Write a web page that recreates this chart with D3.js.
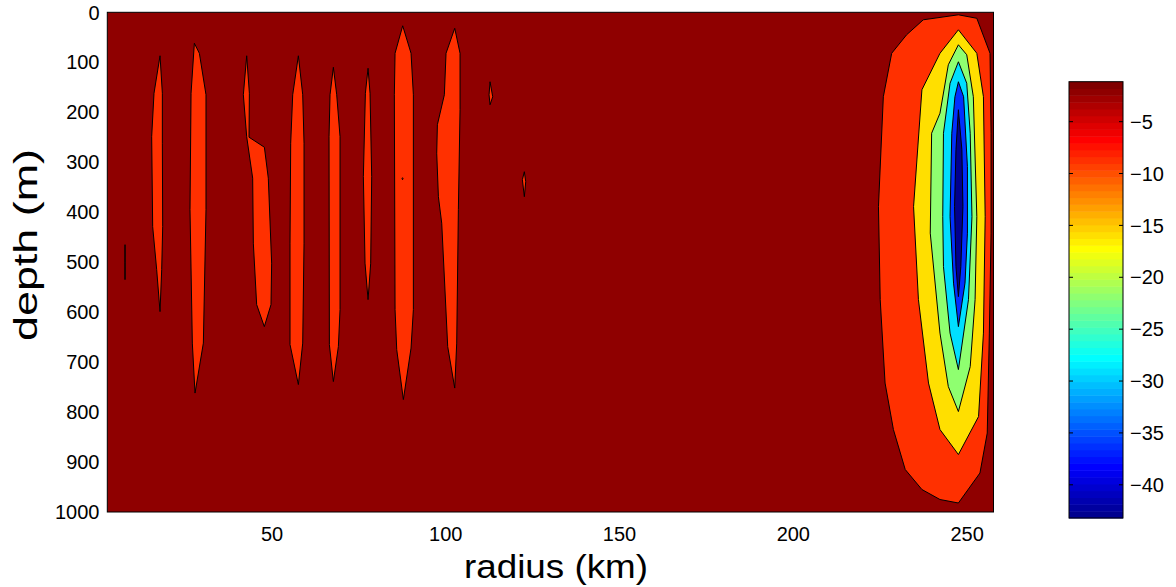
<!DOCTYPE html>
<head>
	<meta charset="utf-8">
	<title>depth vs radius contour</title>
	<script src="https://d3js.org/d3.v7.min.js"></script>
	<style>
	body {
		margin:0;
		background:#ffffff;
	}
	text {
		font-family:"Liberation Sans", Arial, Helvetica, sans-serif;
		fill:#000000;
	}
	.contour {
		stroke:#000000;
		stroke-width:1px;
		stroke-linejoin:round;
	}
	.frame {
		fill:none;
		stroke:#000000;
		stroke-width:1px;
	}
	</style>
</head>
<body>
<div class="chartContainer"></div>
<script>
	// axis ranges and ticks
	var radiusDomain=[2.6, 257.6];
	var depthDomain=[0, 1000];
	var colorDomain=[-43.2, -1.15];
	var radiusTicks=[50, 100, 150, 200, 250];
	var depthTicks=[0, 100, 200, 300, 400, 500, 600, 700, 800, 900, 1000];
	var colorTicks=[-5, -10, -15, -20, -25, -30, -35, -40];

	// contour levels (value of region inside each ring), background is above the first level
	var backgroundValue=-2.0;
	var levels=[-8.5, -15.7, -22.0, -29.3, -36.3, -43.2];

	// rings for each level, points are [radius km, depth m]
	var ring1=[
		[[7.70,465],[7.73,500],[7.70,535],[7.67,500]],
		[[17.77,87],[18.44,162],[18.44,262],[18.54,429],[18.25,515],[17.77,599],[16.81,515],[15.66,429],[15.37,249],[16.04,162]],
		[[27.65,62],[29.09,82],[31.0,165],[31.0,395],[30.24,662],[27.84,762],[27.07,662],[26.4,395],[26.7,162]],
		[[42.71,87],[43.48,162],[43.38,250],[47.8,270],[48.93,332],[49.89,502],[49.7,585],[47.78,629],[45.58,585],[44.62,462],[44.43,332],[42.71,249],[41.75,165]],
		[[57.58,87],[58.83,165],[59.21,262],[59.21,462],[58.83,662],[57.58,745],[55.18,665],[55.18,462],[55.37,262],[55.95,165]],
		[[67.65,110],[68.61,165],[69.57,249],[69.57,595],[69.09,669],[67.65,739],[66.5,665],[66.4,249],[66.69,165]],
		[[77.63,112],[78.2,162],[78.68,329],[78.39,502],[77.63,575],[76.76,502],[76.28,329],[76.86,162]],
		[[87.6,27],[90.0,82],[90.67,165],[90.67,595],[90.0,672],[87.79,775],[85.88,675],[85.4,595],[85.2,165],[85.4,82]],
		[[87.55,331],[87.7,333],[87.55,335],[87.4,333]],
		[[102.57,32],[104.1,82],[104.1,195],[103.62,395],[103.14,662],[102.57,752],[100.55,669],[98.83,422],[97.87,369],[97.39,282],[97.58,225],[99.59,165],[100.07,82]],
		[[112.73,139],[113.5,169],[112.73,185],[112.45,165]],
		[[122.6,319],[123.0,339],[122.6,369],[122.04,335]],
		[[247.5,5],[252.8,12],[256.6,82],[256.9,242],[256.9,442],[256.4,642],[255.8,842],[253.7,922],[247.5,982],[242.2,975],[237.0,955],[232.2,915],[228.8,835],[226.4,742],[225.0,575],[224.5,389],[225.9,169],[228.3,82],[232.6,45],[237.4,15]]
	];
	var ring2=[
		[[247.5,35],[252.8,82],[254.7,169],[255.2,409],[254.7,642],[253.3,809],[247.5,885],[242.2,835],[238.9,742],[236.0,575],[234.6,389],[237.0,155],[242.2,82]]
	];
	var ring3=[
		[[247.5,65],[249.9,85],[251.8,169],[252.8,409],[252.3,575],[250.9,709],[247.5,799],[244.6,749],[242.2,642],[239.4,442],[239.8,242],[242.2,202],[244.6,105]]
	];
	var ring4=[
		[[247.5,99],[249.9,142],[250.9,242],[251.4,409],[250.4,575],[247.5,715],[245.1,642],[243.2,509],[243.0,409],[243.2,242],[245.1,142]]
	];
	var ring5=[
		[[247.5,139],[249.0,169],[250.1,309],[250.1,442],[249.4,542],[247.5,629],[246.1,542],[245.1,409],[245.6,242],[246.5,169]]
	];
	var ring6=[
		[[247.5,195],[248.5,275],[248.8,389],[248.2,509],[247.5,569],[246.8,509],[246.4,389],[246.8,275]]
	];
	var rings=[ring1, ring2, ring3, ring4, ring5, ring6];

	// matlab jet(64) colormap
	var jet64=function(i) {
		var u=function(k) {
			if (k<1 || k>47) return 0;
			if (k<=16) return k/16;
			if (k<=31) return 1;
			return (48-k)/16;
		};
		return d3.rgb(255*u(i-24), 255*u(i-8), 255*u(i+8)).formatHex();
	};
	var colorIndex=function(v) {
		var i=Math.floor((v-colorDomain[0])/(colorDomain[1]-colorDomain[0])*64)+1;
		return Math.max(1, Math.min(64, i));
	};

	var svg=d3.select(".chartContainer").append("svg")
		.attr("width", 1176)
		.attr("height", 587);

	var plot={left:107.3, right:993.5, top:12.3, bottom:512};

	var x=d3.scaleLinear().domain(radiusDomain).range([plot.left, plot.right]);
	var y=d3.scaleLinear().domain(depthDomain).range([plot.top, plot.bottom]);

	// background band
	svg.append("rect")
		.attr("x", x(radiusDomain[0]))
		.attr("y", y(depthDomain[0]))
		.attr("width", x(radiusDomain[1])-x(radiusDomain[0]))
		.attr("height", y(depthDomain[1])-y(depthDomain[0]))
		.attr("fill", jet64(colorIndex(backgroundValue)));

	var ringLine=d3.line()
		.curve(d3.curveLinearClosed)
		.x(function(d) { return x(d[0]); })
		.y(function(d) { return y(d[1]); });

	rings.forEach(function(ring, li) {
		svg.append("g")
			.selectAll("path")
			.data(ring)
			.enter()
			.append("path")
			.attr("class", "contour")
			.attr("fill", jet64(colorIndex(levels[li])))
			.attr("d", ringLine);
	});

	svg.append("rect")
		.attr("class", "frame")
		.attr("x", plot.left)
		.attr("y", plot.top)
		.attr("width", plot.right-plot.left)
		.attr("height", plot.bottom-plot.top);

	// axes (ticks sit under the filled contours in the original, so only labels)
	svg.append("g")
		.selectAll("text")
		.data(radiusTicks)
		.enter()
		.append("text")
		.attr("x", function(d) { return x(d); })
		.attr("y", 540.7)
		.attr("text-anchor", "middle")
		.style("font-size", "20px")
		.text(function(d) { return d; });

	svg.append("g")
		.selectAll("text")
		.data(depthTicks)
		.enter()
		.append("text")
		.attr("x", 99.5)
		.attr("y", function(d) { return y(d)+7.2; })
		.attr("text-anchor", "end")
		.style("font-size", "20px")
		.text(function(d) { return d; });

	svg.append("text")
		.attr("x", 556)
		.attr("y", 578)
		.attr("text-anchor", "middle")
		.attr("textLength", 184)
		.attr("lengthAdjust", "spacingAndGlyphs")
		.style("font-size", "34px")
		.text("radius (km)");

	svg.append("text")
		.attr("transform", "translate(37,245) rotate(-90)")
		.attr("text-anchor", "middle")
		.attr("textLength", 192)
		.attr("lengthAdjust", "spacingAndGlyphs")
		.style("font-size", "34px")
		.text("depth (m)");

	// colorbar
	var bar={left:1069, right:1123, top:81.7, bottom:518};
	var c=d3.scaleLinear().domain(colorDomain).range([bar.bottom, bar.top]);
	var stripes=d3.range(64);
	var stripeH=(bar.bottom-bar.top)/64;

	svg.append("g")
		.selectAll("rect")
		.data(stripes)
		.enter()
		.append("rect")
		.attr("x", bar.left)
		.attr("y", function(d) { return bar.bottom-(d+1)*stripeH; })
		.attr("width", bar.right-bar.left)
		.attr("height", stripeH+0.5)
		.attr("fill", function(d) { return jet64(d+1); });

	svg.append("rect")
		.attr("class", "frame")
		.attr("x", bar.left)
		.attr("y", bar.top)
		.attr("width", bar.right-bar.left)
		.attr("height", bar.bottom-bar.top);

	var cticks=svg.append("g")
		.selectAll("g")
		.data(colorTicks)
		.enter()
		.append("g");
	cticks.append("line")
		.attr("x1", bar.left).attr("x2", bar.left+4)
		.attr("y1", function(d) { return c(d); })
		.attr("y2", function(d) { return c(d); })
		.attr("stroke", "#000");
	cticks.append("line")
		.attr("x1", bar.right-4).attr("x2", bar.right)
		.attr("y1", function(d) { return c(d); })
		.attr("y2", function(d) { return c(d); })
		.attr("stroke", "#000");
	cticks.append("text")
		.attr("x", bar.right+7)
		.attr("y", function(d) { return c(d)+7.2; })
		.style("font-size", "20px")
		.text(function(d) { return "\u2212"+Math.abs(d); });
</script>
</body>
</html>
